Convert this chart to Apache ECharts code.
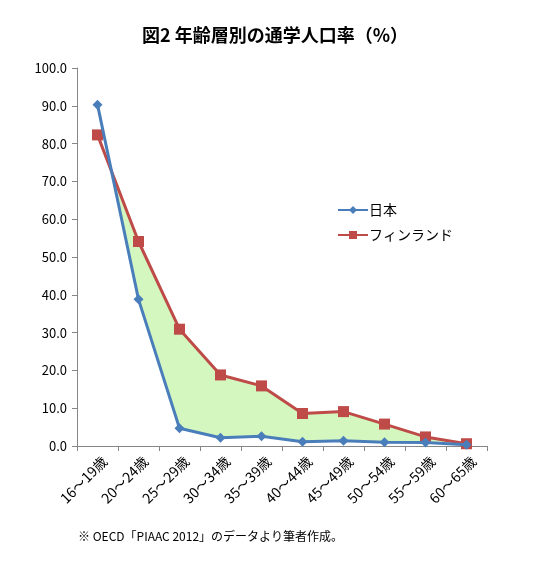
<!DOCTYPE html>
<html>
<head>
<meta charset="utf-8">
<title>図2 年齢層別の通学人口率</title>
<script src="https://cdn.jsdelivr.net/npm/echarts@6/dist/echarts.min.js"></script>
<style>
  html, body { margin: 0; padding: 0; background: #fff; }
  #chart { width: 550px; height: 577px; }
</style>
</head>
<body>
<div id="chart"></div>
<script>
// 年齢層（横軸）
var ageGroups = ['16～19歳', '20～24歳', '25～29歳', '30～34歳', '35～39歳',
                 '40～44歳', '45～49歳', '50～54歳', '55～59歳', '60～65歳'];
// 通学人口率（%）
var japan   = [90.3, 38.8, 4.7, 2.2, 2.6, 1.1, 1.4, 1.0, 0.9, 0.3];
var finland = [82.3, 54.1, 30.9, 18.8, 15.9, 8.6, 9.1, 5.8, 2.4, 0.6];
var yTicks  = [0, 10, 20, 30, 40, 50, 60, 70, 80, 90, 100];

var chart = echarts.init(document.getElementById('chart'));

// フィンランドが日本を上回る部分を塗りつぶす
function renderGap(params, api) {
  var upper = [], lower = [];
  for (var i = 0; i < ageGroups.length; i++) {
    var d = finland[i] - japan[i];
    if (i > 0) {
      var dPrev = finland[i - 1] - japan[i - 1];
      if ((dPrev < 0 && d > 0) || (dPrev > 0 && d < 0)) {
        // 交点をピクセル空間で求める
        var t = dPrev / (dPrev - d);
        var a = api.coord([i - 1, japan[i - 1]]), b = api.coord([i, japan[i]]);
        var p = [a[0] + (b[0] - a[0]) * t, a[1] + (b[1] - a[1]) * t];
        upper.push(p);
        lower.push(p);
      }
    }
    if (d >= 0) {
      upper.push(api.coord([i, finland[i]]));
      lower.push(api.coord([i, japan[i]]));
    }
  }
  var pts = upper.concat(lower.reverse());
  return {
    type: 'polygon',
    shape: { points: pts },
    style: { fill: '#d4f7c0', stroke: null }
  };
}

chart.setOption({
  animation: false,
  textStyle: { fontFamily: '"Noto Sans CJK JP", "Noto Sans", sans-serif' },
  title: {
    text: '図2 年齢層別の通学人口率（%）',
    left: 'center',
    top: 21,
    textStyle: { fontSize: 18, fontWeight: 'bold', color: '#000' }
  },
  legend: {
    orient: 'vertical',
    left: 332,
    top: 198,
    itemWidth: 30,
    itemHeight: 10,
    itemGap: 11,
    data: ['日本', 'フィンランド'],
    textStyle: { fontSize: 14, color: '#000', padding: [0, 0, 0, -4] }
  },
  grid: { left: 77, right: 63, top: 68, bottom: 131 },
  xAxis: {
    type: 'category',
    data: ageGroups,
    boundaryGap: true,
    axisLine: { lineStyle: { color: '#868686', width: 1 } },
    axisTick: { show: true, length: 5, lineStyle: { color: '#868686' } },
    axisLabel: { rotate: 45, fontSize: 14, color: '#000', margin: 20, padding: [0, -10, 0, 0] }
  },
  yAxis: {
    type: 'value',
    min: yTicks[0],
    max: yTicks[yTicks.length - 1],
    interval: 10,
    axisLine: { show: true, lineStyle: { color: '#868686', width: 1 } },
    axisTick: { show: true, length: 5, lineStyle: { color: '#868686' } },
    splitLine: { show: false },
    axisLabel: {
      fontSize: 13, color: '#000', margin: 10,
      formatter: function (v) { return v.toFixed(1); }
    }
  },
  series: [
    {
      type: 'custom',
      name: 'gap',
      renderItem: renderGap,
      data: [0],
      z: 1,
      silent: true
    },
    {
      name: '日本',
      type: 'line',
      data: japan,
      symbol: 'diamond',
      symbolSize: 10,
      lineStyle: { color: '#4a7ebb', width: 3 },
      itemStyle: { color: '#4a7ebb' },
      z: 3
    },
    {
      name: 'フィンランド',
      type: 'line',
      data: finland,
      symbol: 'rect',
      symbolSize: 11,
      lineStyle: { color: '#be4b48', width: 3 },
      itemStyle: { color: '#be4b48' },
      z: 2
    }
  ],
  graphic: [{
    type: 'text',
    left: 78,
    top: 530,
    style: {
      text: '※ OECD「PIAAC 2012」のデータより筆者作成。',
      fontSize: 12,
      fill: '#000',
      fontFamily: '"Noto Sans CJK JP", sans-serif'
    }
  }]
});
</script>
</body>
</html>
